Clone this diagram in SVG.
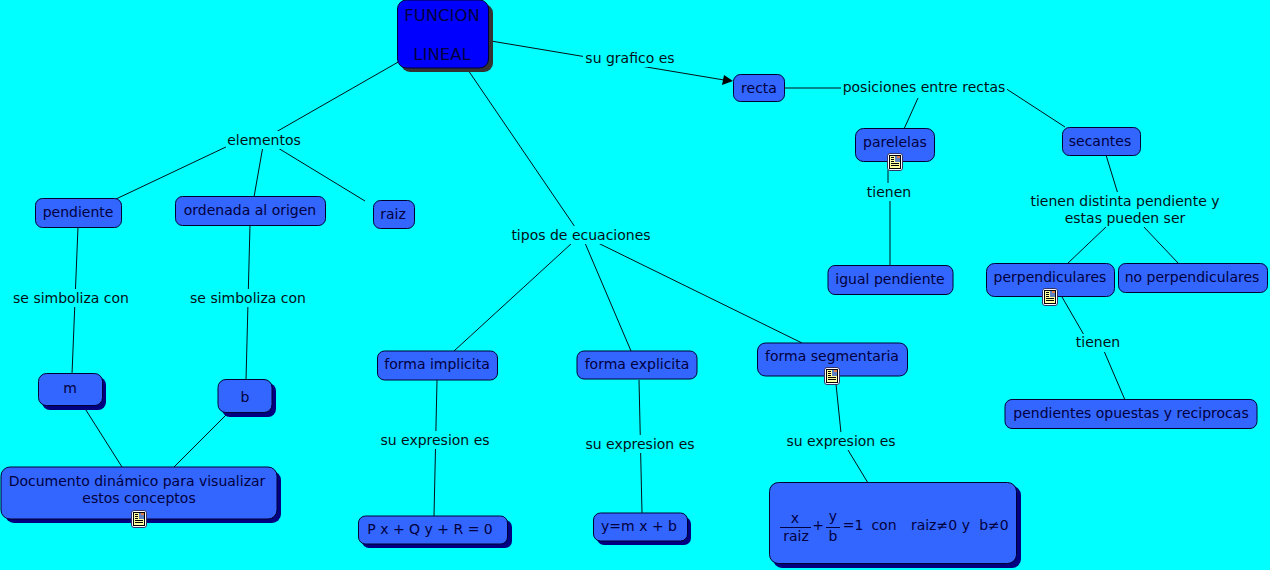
<svg xmlns="http://www.w3.org/2000/svg" width="1270" height="570" viewBox="0 0 1270 570">
<style>
text{font-family:"DejaVu Sans","Verdana",sans-serif;font-size:14px;text-anchor:middle;fill:#001018}
.n text{fill:#000040}
.b{fill:#3366ff;stroke:#000033;stroke-width:1}
.s{fill:#000080}
.c line{stroke:#001018;stroke-width:1}
.l{fill:#00ffff}
</style>
<defs>
<g id="doc"><rect x="-7.500" y="-8.500" width="15" height="17" rx="2.500" fill="#fff" stroke="#336" stroke-width="1"/><rect x="-5.500" y="-6.500" width="11" height="13" fill="#ffffa0" stroke="#000" stroke-width="1"/><rect x="0" y="-6" width="5" height="6" fill="#6080c0"/><rect x="2" y="-6" width="3" height="2" fill="#e08050"/><path d="M-4-4.500h3M-4-2.500h3M-4-.5h3M-4 1.500h8M-4 3.500h8" stroke="#000" stroke-width="1" fill="none"/></g>
</defs>
<rect width="1270" height="570" fill="#00ffff"/>
<g id="connectors" class="c">
<line x1="491" y1="41" x2="724" y2="80"/>
<line x1="785" y1="88" x2="845" y2="88"/>
<line x1="918" y1="98" x2="904" y2="129"/>
<line x1="1005" y1="88" x2="1065" y2="127"/>
<line x1="888" y1="170" x2="888" y2="185"/>
<line x1="890" y1="200" x2="890" y2="266"/>
<line x1="1106" y1="155" x2="1118" y2="194"/>
<line x1="1107" y1="226" x2="1067" y2="264"/>
<line x1="1143" y1="226" x2="1179" y2="264"/>
<line x1="1062" y1="297" x2="1084" y2="335"/>
<line x1="1104" y1="351" x2="1125" y2="400"/>
<line x1="400" y1="61" x2="276" y2="132"/>
<line x1="228" y1="146" x2="116" y2="199"/>
<line x1="263" y1="146" x2="254" y2="197"/>
<line x1="278" y1="148" x2="365" y2="201"/>
<line x1="78" y1="227" x2="72" y2="374"/>
<line x1="250" y1="225" x2="246" y2="380"/>
<line x1="84" y1="407" x2="122" y2="467"/>
<line x1="227" y1="414" x2="174" y2="467"/>
<line x1="468" y1="70" x2="575" y2="227"/>
<line x1="572" y1="243" x2="454" y2="351"/>
<line x1="585" y1="243" x2="631" y2="351"/>
<line x1="598" y1="243" x2="802" y2="343"/>
<line x1="437" y1="380" x2="434" y2="516"/>
<line x1="639" y1="380" x2="642" y2="513"/>
<line x1="836" y1="384" x2="841" y2="433"/>
<line x1="848" y1="450" x2="868" y2="483"/>
<polygon points="733,81 722,85 724,75" fill="#000"/>
</g>
<g id="labels">
<rect class="l" x="583" y="49" width="94" height="18"/><text x="630" y="63">su grafico es</text>
<rect class="l" x="841" y="79" width="166" height="18"/><text x="924" y="92">posiciones entre rectas</text>
<rect class="l" x="865" y="183" width="48" height="18"/><text x="889" y="197">tienen</text>
<rect class="l" x="1028" y="192" width="194" height="35"/><text x="1125" y="206">tienen distinta pendiente y</text><text x="1125" y="223">estas pueden ser</text>
<rect class="l" x="1074" y="334" width="48" height="18"/><text x="1098" y="347">tienen</text>
<rect class="l" x="226" y="131" width="76" height="18"/><text x="264" y="145">elementos</text>
<rect class="l" x="11" y="289" width="120" height="18"/><text x="71" y="303">se simboliza con</text>
<rect class="l" x="188" y="289" width="120" height="18"/><text x="248" y="303">se simboliza con</text>
<rect class="l" x="510" y="226" width="142" height="18"/><text x="581" y="240">tipos de ecuaciones</text>
<rect class="l" x="378" y="431" width="114" height="18"/><text x="435" y="445">su expresion es</text>
<rect class="l" x="583" y="435" width="114" height="18"/><text x="640" y="449">su expresion es</text>
<rect class="l" x="784" y="432" width="114" height="18"/><text x="841" y="446">su expresion es</text>
</g>
<g id="funcion-lineal" class="n"><rect x="401" y="4" width="92" height="68" rx="9" fill="#333"/><rect x="397.500" y="0" width="91" height="68" rx="9" fill="#0000ff" stroke="#000033"/><text x="442" y="21" style="font-size:16.500px">FUNCION</text><text x="442" y="60" style="font-size:16.500px">LINEAL</text></g>
<g id="recta" class="n"><rect class="b" x="733.500" y="74.500" width="51" height="27" rx="7"/><text x="759" y="93">recta</text></g>
<g id="parelelas" class="n"><rect class="b" x="855.500" y="128.500" width="79" height="33" rx="8"/><text x="895" y="147">parelelas</text><use href="#doc" x="895" y="162"/></g>
<g id="secantes" class="n"><rect class="b" x="1062.500" y="127.500" width="78" height="28" rx="7"/><text x="1100" y="146">secantes</text></g>
<g id="igual-pendiente" class="n"><rect class="b" x="828" y="265.500" width="125" height="29" rx="7"/><text x="890" y="284">igual pendiente</text></g>
<g id="perpendiculares" class="n"><rect class="b" x="986.500" y="263.500" width="128" height="33" rx="8"/><text x="1050" y="282">perpendiculares</text><use href="#doc" x="1050" y="297"/></g>
<g id="no-perpendiculares" class="n"><rect class="b" x="1118.500" y="263.500" width="149" height="29" rx="7"/><text x="1192" y="282">no perpendiculares</text></g>
<g id="pendientes-opuestas" class="n"><rect class="b" x="1005" y="399.500" width="252" height="29" rx="7"/><text x="1131" y="418">pendientes opuestas y reciprocas</text></g>
<g id="pendiente" class="n"><rect class="b" x="35.500" y="198.500" width="86" height="29" rx="7"/><text x="78" y="217">pendiente</text></g>
<g id="ordenada" class="n"><rect class="b" x="175.500" y="196.500" width="150" height="29" rx="7"/><text x="250" y="215">ordenada al origen</text></g>
<g id="raiz" class="n"><rect class="b" x="373.500" y="200.500" width="41" height="28" rx="7"/><text x="393" y="219">raiz</text></g>
<g id="m" class="n"><rect class="s" x="42" y="377" width="64" height="33" rx="8"/><rect class="b" x="38.500" y="373.500" width="64" height="32" rx="8"/><text x="70" y="393">m</text></g>
<g id="b" class="n"><rect class="s" x="222" y="383" width="54" height="34" rx="8"/><rect class="b" x="218" y="379.500" width="54" height="33" rx="8"/><text x="245" y="402">b</text></g>
<g id="documento" class="n"><rect class="s" x="5" y="471" width="276" height="52" rx="9"/><rect class="b" x="1" y="467" width="276" height="52" rx="9"/><text x="137" y="486">Documento dinámico para visualizar</text><text x="139" y="503">estos conceptos</text><use href="#doc" x="139" y="519"/></g>
<g id="forma-implicita" class="n"><rect class="b" x="377.500" y="351" width="120" height="29" rx="7"/><text x="437" y="369">forma implicita</text></g>
<g id="forma-explicita" class="n"><rect class="b" x="577" y="351" width="120" height="28" rx="7"/><text x="637" y="369">forma explicita</text></g>
<g id="forma-segmentaria" class="n"><rect class="b" x="757.500" y="343" width="150" height="33" rx="8"/><text x="832" y="361">forma segmentaria</text><use href="#doc" x="832" y="376"/></g>
<g id="pqr" class="n"><rect class="s" x="362" y="520" width="150" height="28" rx="7"/><rect class="b" x="358.500" y="516" width="149" height="28" rx="7"/><text x="430" y="534">P x + Q y + R = 0</text></g>
<g id="ymxb" class="n"><rect class="s" x="597" y="517" width="94" height="28" rx="7"/><rect class="b" x="593.500" y="513" width="94" height="28" rx="7"/><text x="639" y="531">y=m x + b</text></g>
<g id="formula" class="n"><rect class="s" x="773" y="486" width="248" height="82" rx="9"/><rect class="b" x="769.500" y="482.500" width="247" height="81" rx="9"/><text x="795" y="523">x</text><line x1="780" y1="527.500" x2="811" y2="527.500" stroke="#000040"/><text x="796" y="541">raiz</text><text x="818" y="530">+</text><text x="833" y="521">y</text><line x1="826" y1="527.500" x2="840" y2="527.500" stroke="#000040"/><text x="833" y="541">b</text><text x="853" y="530">=1</text><text x="884" y="530">con</text><text x="934" y="530">raiz≠0</text><text x="966" y="530">y</text><text x="994" y="530">b≠0</text></g>
</svg>
